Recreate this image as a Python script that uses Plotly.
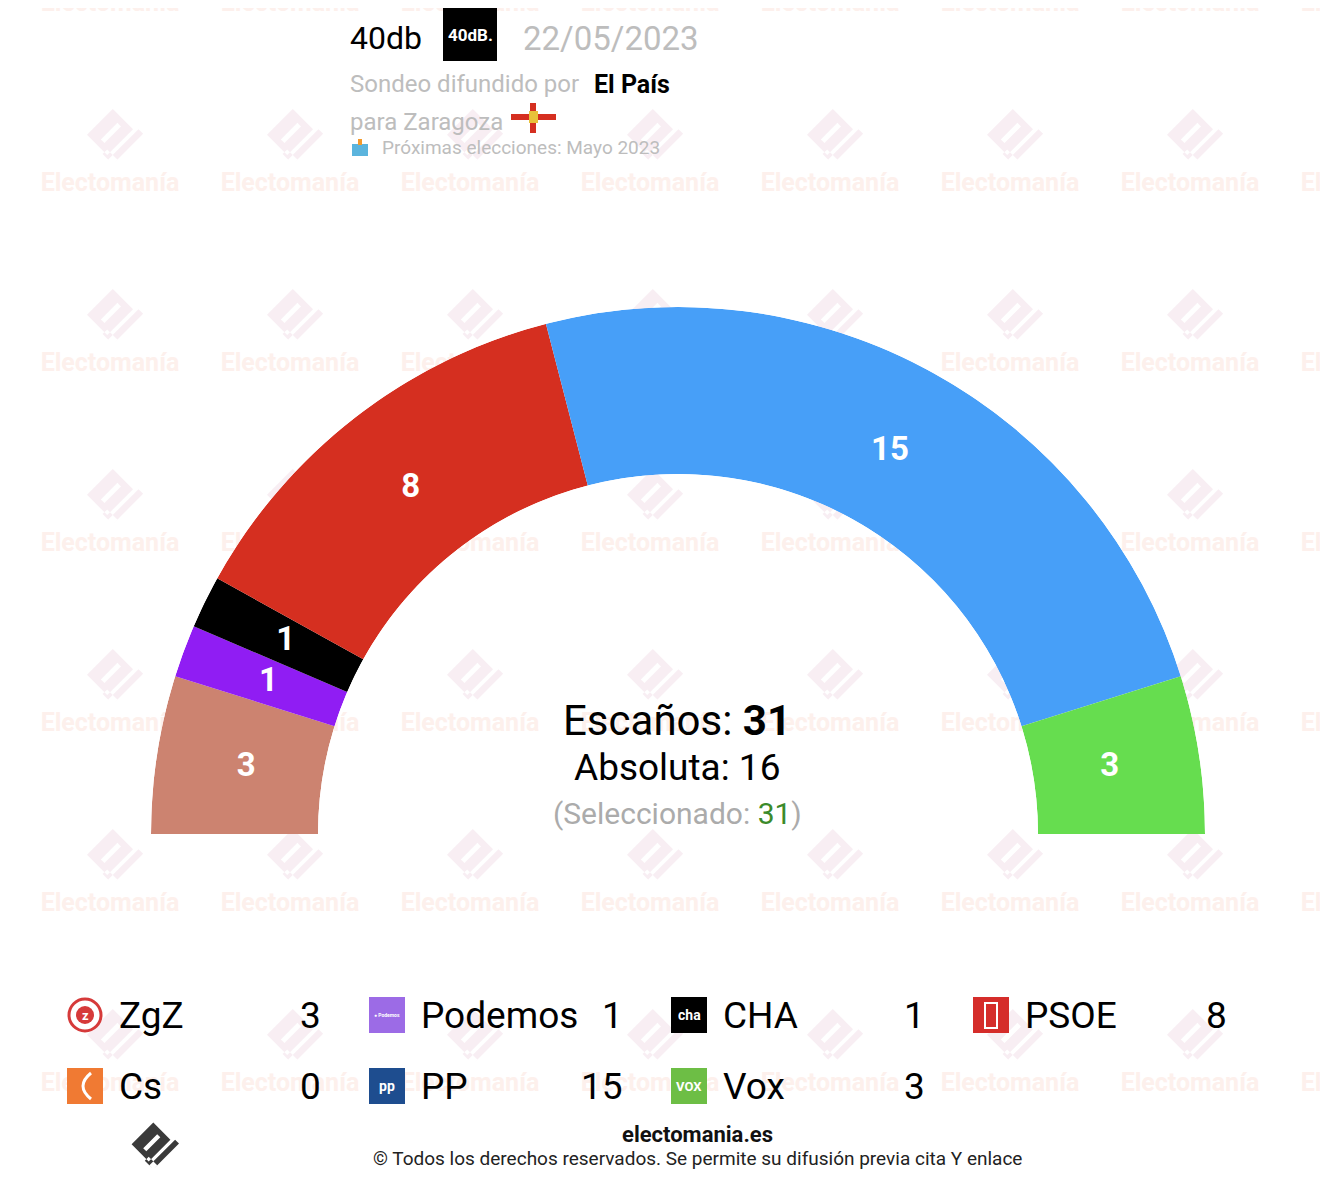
import plotly.graph_objects as go

# datos del sondeo
parties = ["ZgZ", "Podemos", "CHA", "PSOE", "Cs", "PP", "Vox"]
seats = [3, 1, 1, 8, 0, 15, 3]
arc_colors = ["#CC8370", "#901DF3", "#000000", "#D52F20", "#F07A33", "#479FF8", "#66DD4F"]
icon_colors = ["#FFFFFF", "#9C6BE6", "#000000", "#D52D2A", "#F07A33", "#1E4D8F", "#6DBE45"]
icon_texts = ["", "● Podemos", "cha", "", "", "pp", "VOX"]

total_seats = 31
majority = 16
pollster = "40db"
poll_date = "22/05/2023"
media = "El País"
place = "Zaragoza"
next_election = "Mayo 2023"

W, H = 1328, 1184
OFF = 8  # margen del body en la pagina
CX, CY, R_OUT, R_IN = 678, 834, 527, 360

fig = go.Figure()

# marca de agua (capa cartesiana, por debajo del semicirculo)
wm_x, wm_y = [], []
for j in range(7):
    for k in range(8):
        wm_x.append(110 + 180 * k)
        wm_y.append(5 + 180 * j)
fig.add_trace(go.Scatter(
    x=wm_x, y=wm_y, mode="text", text=["<b>Electomanía</b>"] * len(wm_x),
    textfont=dict(family="Roboto", size=25, color="#FDF0EC"),
    hoverinfo="skip", showlegend=False, xaxis="x", yaxis="y"
))


def rot_path(cx, cy, s, rects):
    parts = []
    for u0, u1, v0, v1, rev in rects:
        pts = [(u0, v0), (u1, v0), (u1, v1), (u0, v1)]
        if rev:
            pts = pts[::-1]
        xy = [(cx + s * 0.7071 * (u + v), cy + s * 0.7071 * (v - u)) for u, v in pts]
        parts.append("M " + " L ".join(f"{x:.1f},{y:.1f}" for x, y in xy) + " Z")
    return " ".join(parts)


logo_rects = [
    (-14, 14, -11, 11, False),
    (-9, 9, -1, 3, True),
    (-16, 17, 14, 19, False),
    (-16, -11, 8, 19, False),
]

shapes = []
for j in range(6):
    for k in range(8):
        shapes.append(dict(type="path", path=rot_path(110 + 180 * k, 132 + 180 * j, 1.3, logo_rects),
                           fillcolor="#F8EEF3", line=dict(width=0), layer="below",
                           xref="x", yref="y"))

# semicirculo de escaños
unit = 180 / total_seats
theta_c, widths, cols, labels = [], [], [], []
acc = 0
for p, s, c in zip(parties, seats, arc_colors):
    if s == 0:
        continue
    theta_c.append((acc + s / 2) * unit)
    widths.append(s * unit)
    cols.append(c)
    labels.append(str(s))
    acc += s

fig.add_trace(go.Barpolar(
    r=[1] * len(theta_c), theta=theta_c, width=widths,
    marker=dict(color=cols, line=dict(width=0)),
    hoverinfo="skip", showlegend=False, subplot="polar"
))
fig.add_trace(go.Scatterpolar(
    r=[0.46] * len(theta_c), theta=theta_c, mode="text", text=[f"<b>{t}</b>" for t in labels],
    textfont=dict(family="Roboto", size=33, color="white"),
    hoverinfo="skip", showlegend=False, subplot="polar"
))

ann = []


def txt(x, y, text, size, color="#000000", xanchor="left", bold=False):
    ann.append(dict(x=x, y=y, xref="x", yref="y", text=f"<b>{text}</b>" if bold else text,
                    showarrow=False, xanchor=xanchor, yanchor="middle",
                    font=dict(family="Roboto", size=size, color=color)))


# cabecera
txt(348, 38, pollster, 32)
shapes.append(dict(type="rect", x0=443, x1=497, y0=8, y1=61, fillcolor="#000000",
                   line=dict(width=0), xref="x", yref="y"))
txt(470, 35, "<b>40dB.</b>", 17, "#FFFFFF", "center")
txt(521, 38, poll_date, 33, "#BDBDBD")
txt(348, 84, "Sondeo difundido por", 24, "#BDBDBD")
txt(592, 84, media, 25, "#000000", bold=True)
txt(348, 122, "para " + place, 24, "#BDBDBD")
shapes += [
    dict(type="rect", x0=511, x1=556, y0=114, y1=120, fillcolor="#D52F20", line=dict(width=0), xref="x", yref="y"),
    dict(type="rect", x0=530, x1=536, y0=103, y1=133, fillcolor="#D52F20", line=dict(width=0), xref="x", yref="y"),
    dict(type="rect", x0=529, x1=538, y0=111, y1=123, fillcolor="#E8C23A", line=dict(width=0), xref="x", yref="y"),
    dict(type="rect", x0=352, x1=368, y0=144, y1=156, fillcolor="#5BB4DD", line=dict(width=0), xref="x", yref="y"),
    dict(type="rect", x0=358, x1=362, y0=139, y1=145, fillcolor="#F39A2B", line=dict(width=0), xref="x", yref="y"),
]
txt(380, 147, "Próximas elecciones: " + next_election, 19, "#BDBDBD")

# centro
txt(677, 720, f"Escaños: <b>{total_seats}</b>", 42, "#000000", "center")
txt(677, 767, f"Absoluta: {majority}", 37, "#000000", "center")
txt(677, 813, f"(Seleccionado: <span style='color:#3B8A2A'>{total_seats}</span>)", 30, "#ABABAB", "center")

# leyenda
for i, (p, s) in enumerate(zip(parties, seats)):
    row, col = divmod(i, 4)
    x0 = 67 + 302 * col
    yc = 1015 + 71 * row
    if p == "ZgZ":
        shapes.append(dict(type="circle", x0=x0 + 2, x1=x0 + 34, y0=yc - 16, y1=yc + 16,
                           line=dict(color="#D63A3A", width=3), xref="x", yref="y"))
        shapes.append(dict(type="circle", x0=x0 + 9, x1=x0 + 27, y0=yc - 9, y1=yc + 9,
                           fillcolor="#D63A3A", line=dict(width=0), xref="x", yref="y"))
        txt(x0 + 18, yc, "<b>z</b>", 13, "#FFFFFF", "center")
    else:
        shapes.append(dict(type="rect", x0=x0, x1=x0 + 36, y0=yc - 18, y1=yc + 18,
                           fillcolor=icon_colors[i], line=dict(width=0), xref="x", yref="y"))
        if p == "PSOE":
            shapes.append(dict(type="rect", x0=x0 + 12, x1=x0 + 24, y0=yc - 12, y1=yc + 13,
                               fillcolor="rgba(0,0,0,0)", line=dict(color="#FFFFFF", width=2),
                               xref="x", yref="y"))
        elif p == "Cs":
            shapes.append(dict(type="path", path=f"M {x0+24},{yc-13} Q {x0+8},{yc} {x0+24},{yc+13}",
                               line=dict(color="#FFFFFF", width=3), xref="x", yref="y"))
        elif icon_texts[i]:
            size = {"Podemos": 5, "CHA": 14, "PP": 14, "Vox": 13}[p]
            txt(x0 + 18, yc, f"<b>{icon_texts[i]}</b>", size, "#FFFFFF", "center")
    txt(x0 + 50, yc, p, 37)
    txt(x0 + 256, yc, str(s), 37, "#000000", "right")

# pie
txt(697, 1134, "electomania.es", 22, "#111111", "center", bold=True)
txt(697, 1158, "© Todos los derechos reservados. Se permite su difusión previa cita Y enlace", 19,
    "#222222", "center")
shapes.append(dict(type="path", path=rot_path(151, 1142, 1.1, logo_rects),
                   fillcolor="#3A3A3A", line=dict(width=0), xref="x", yref="y"))

fig.update_layout(
    width=W, height=H,
    margin=dict(l=0, r=0, t=0, b=0),
    paper_bgcolor="#FFFFFF", plot_bgcolor="rgba(0,0,0,0)",
    xaxis=dict(range=[OFF, W + OFF], visible=False, domain=[0, 1], fixedrange=True),
    yaxis=dict(range=[H + OFF, OFF], visible=False, domain=[0, 1], fixedrange=True),
    polar=dict(
        domain=dict(x=[(CX - R_OUT - OFF) / W, (CX + R_OUT - OFF) / W],
                    y=[(H - CY + OFF) / H, (H - CY + OFF + R_OUT) / H]),
        sector=[0, 180], hole=R_IN / R_OUT, bgcolor="rgba(0,0,0,0)",
        radialaxis=dict(range=[0, 1], visible=False),
        angularaxis=dict(visible=False, rotation=180, direction="clockwise"),
    ),
    shapes=shapes, annotations=ann, showlegend=False,
)

fig.write_html("out.html")
